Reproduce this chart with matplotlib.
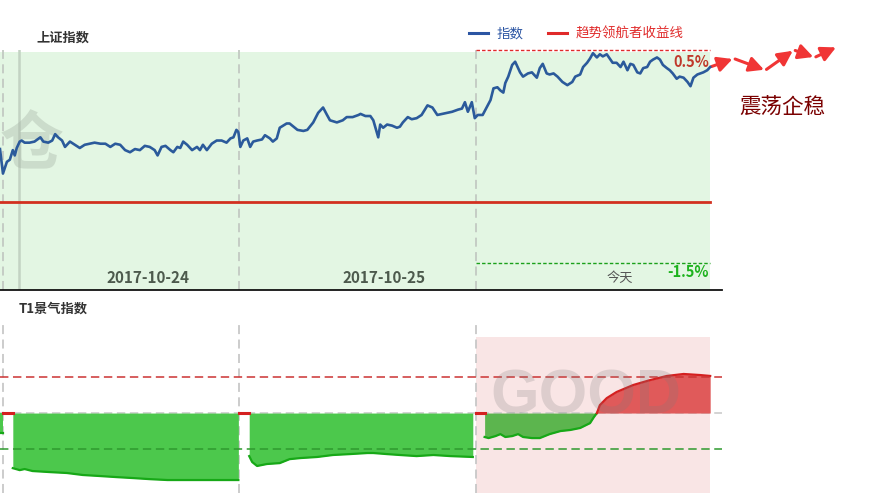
import numpy as np
import matplotlib.pyplot as plt
import matplotlib.transforms as mtrans
from matplotlib.lines import Line2D

plt.rcParams['font.family'] = ['Noto Sans CJK SC', 'DejaVu Sans']

# ---- data ----
day_labels = ['2017-10-24', '2017-10-25', '今天']
day_start = [0, 240, 480]
day_end = 718

# 上证指数, minute of the 3-day window vs % change
idx_min = [-3, 0, 4, 7, 10, 12, 14, 17, 19, 22, 27, 32, 38, 41, 46, 50, 53, 56, 60, 63,
           68, 73, 78, 83, 88, 93, 99, 104, 109, 114, 119, 124, 129, 134, 139, 144, 149, 154, 157, 161,
           165, 170, 173, 177, 180, 183, 187, 192, 197, 200, 203, 207, 212, 217, 222, 227, 231, 234, 237, 239,
           241, 244, 248, 251, 254, 258, 263, 266, 271, 274, 278, 281, 288, 291, 299, 305, 309, 315, 320, 325,
           329, 332, 339, 345, 349, 355, 361, 363, 368, 373, 376, 381, 383, 386, 390, 395, 400, 403, 406, 411,
           415, 420, 425, 431, 436, 441, 446, 451, 456, 462, 466, 469, 472, 476, 479, 482, 487, 491, 495, 498,
           502, 505, 508, 510, 513, 517, 520, 525, 528, 533, 537, 542, 545, 548, 552, 555, 559, 563, 568, 573,
           578, 581, 586, 589, 593, 596, 599, 603, 606, 609, 613, 616, 619, 623, 627, 630, 634, 637, 640, 644,
           647, 650, 654, 657, 660, 664, 667, 670, 674, 677, 680, 684, 687, 691, 695, 698, 701, 705, 708, 711,
           715, 718]
idx_pct = [-0.43, -0.66, -0.55, -0.53, -0.44, -0.49, -0.42, -0.36, -0.35, -0.37, -0.37, -0.36, -0.32, -0.36, -0.37, -0.35, -0.29, -0.32, -0.35, -0.41,
           -0.36, -0.39, -0.42, -0.39, -0.38, -0.37, -0.38, -0.38, -0.41, -0.38, -0.39, -0.44, -0.46, -0.43, -0.44, -0.40, -0.41, -0.44, -0.49, -0.41,
           -0.40, -0.44, -0.46, -0.41, -0.42, -0.36, -0.39, -0.44, -0.41, -0.44, -0.39, -0.44, -0.38, -0.35, -0.35, -0.37, -0.33, -0.32, -0.25, -0.27,
           -0.41, -0.35, -0.33, -0.41, -0.36, -0.35, -0.34, -0.30, -0.33, -0.36, -0.33, -0.23, -0.19, -0.19, -0.25, -0.26, -0.25, -0.18, -0.09, -0.04,
           -0.11, -0.16, -0.18, -0.16, -0.13, -0.13, -0.11, -0.10, -0.12, -0.12, -0.16, -0.32, -0.20, -0.23, -0.20, -0.21, -0.23, -0.22, -0.18, -0.13,
           -0.15, -0.14, -0.11, -0.02, -0.04, -0.11, -0.10, -0.09, -0.08, -0.06, -0.05, 0.01, -0.08, 0.01, -0.14, -0.11, -0.11, -0.04, 0.03, 0.14,
           0.15, 0.12, 0.10, 0.19, 0.25, 0.36, 0.39, 0.29, 0.25, 0.28, 0.29, 0.24, 0.33, 0.37, 0.28, 0.27, 0.28, 0.25, 0.20, 0.17,
           0.20, 0.25, 0.27, 0.34, 0.38, 0.42, 0.47, 0.43, 0.46, 0.44, 0.46, 0.42, 0.38, 0.38, 0.34, 0.39, 0.31, 0.37, 0.36, 0.29,
           0.28, 0.33, 0.34, 0.39, 0.41, 0.43, 0.41, 0.36, 0.33, 0.31, 0.28, 0.23, 0.25, 0.24, 0.20, 0.16, 0.24, 0.27, 0.28, 0.29,
           0.31, 0.34]

trend_pct = -0.93          # 趋势领航者收益线
upper_pct = 0.5
lower_pct = -1.5

# forecast arrows (震荡企稳)
fc_min = [718, 742, 774, 803, 824, 847]
fc_pct = [0.34, 0.42, 0.31, 0.50, 0.43, 0.53]

# T1景气指数 per session
t1_min = [
    [-3, 0],
    [10, 17, 22, 30, 48, 65, 81, 99, 116, 132, 149, 167, 183, 200, 217, 239],
    [250, 253, 258, 268, 281, 291, 302, 319, 335, 352, 370, 376, 390, 403, 420, 437, 454, 477],
    [489, 493, 500, 505, 510, 517, 523, 528, 537, 545, 555, 566, 576, 586, 596, 600, 603,
     606, 613, 623, 640, 657, 674, 691, 708, 718],
]
t1_val = [
    [-11, -11],
    [-30.6, -31.7, -31.1, -32.2, -32.8, -33.3, -34.4, -35.0, -35.6, -36.1, -36.7, -37.2, -37.2, -37.2, -37.2, -37.2],
    [-23.9, -27.2, -29.4, -28.3, -27.8, -25.6, -25.0, -24.4, -23.3, -22.8, -22.2, -22.2, -22.8, -23.3, -23.9, -23.3, -23.9, -24.4],
    [-13.3, -13.9, -12.8, -11.7, -13.3, -12.8, -11.7, -13.3, -13.9, -13.9, -11.7, -10.0, -9.4, -8.3, -5.6, -2.2, 0.0,
     4.4, 8.3, 11.7, 15.6, 18.3, 20.6, 21.7, 21.1, 20.6],
]
t1_hi, t1_lo = 20, -20

# ---- figure ----
fig = plt.figure(figsize=(8.69, 4.93), dpi=100)
W, H = 869, 493
ax1 = fig.add_axes([0, (H - 290) / H, 722 / W, 240 / H])
ax2 = fig.add_axes([0, 0, 722 / W, 168 / H])

xlo, xhi = -3, 730

# top panel
ax1.set_xlim(xlo, xhi)
ax1.set_ylim(-1.7535, 0.5)
ax1.axvspan(xlo, day_end, ymax=0.992, color='#e3f6e3', lw=0, zorder=0)
for d in day_start:
    ax1.axvline(d, color='#c2c9c2', lw=1.3, dashes=(5, 3), zorder=1)
ax1.axvline(16, color='#c3d3c3', lw=1.8, zorder=1)
ax1.text(0.044, 0.60, '仓', transform=ax1.transAxes, fontsize=46, fontweight='bold',
         color='#a8b6a8', alpha=0.4, ha='center', va='center', zorder=1)

ax1.plot([xlo, day_end], [trend_pct, trend_pct], color='#d2301f', lw=2, zorder=3)
ax1.plot(idx_min, idx_pct, color='#2b5a9b', lw=1.9, zorder=4)

ax1.plot([day_start[2], day_end], [upper_pct, upper_pct], color='#e02a2a', lw=1,
         dashes=(2.5, 1.5), clip_on=False, zorder=3)
ax1.plot([day_start[2], day_end], [lower_pct, lower_pct], color='#1aa01a', lw=1,
         dashes=(2.5, 1.5), zorder=3)
ax1.annotate('0.5%', (day_end, upper_pct), xytext=(-1, -3), textcoords='offset points',
             ha='right', va='top', fontsize=10.5, fontweight='bold', color='#c0392b')
ax1.annotate('-1.5%', (day_end, lower_pct), xytext=(-1, -0.5), textcoords='offset points',
             ha='right', va='top', fontsize=10.5, fontweight='bold', color='#1db31d')

tr = mtrans.blended_transform_factory(ax1.transData, ax1.transAxes)
for d, lab in zip(day_start, day_labels):
    if lab == '今天':
        ax1.text(d + 146, 0.046, lab, transform=tr, ha='center', va='center',
                 fontsize=9.5, color='#555555')
    else:
        ax1.text(d + 147, 0.052, lab, transform=tr, ha='center', va='center',
                 fontsize=11, fontweight='bold', color='#4d5a4d')

for s in ['top', 'left', 'right']:
    ax1.spines[s].set_visible(False)
ax1.spines['bottom'].set_color('#111111')
ax1.spines['bottom'].set_linewidth(1.3)
ax1.set_xticks([])
ax1.set_yticks([])
ax1.set_facecolor('none')

# forecast arrows
for i in range(len(fc_min) - 1):
    ax1.annotate('', xy=(fc_min[i + 1], fc_pct[i + 1]), xytext=(fc_min[i], fc_pct[i]),
                 arrowprops=dict(arrowstyle='-|>,head_length=0.55,head_width=0.28',
                                 mutation_scale=16, color='#f03535', lw=2.2,
                                 shrinkA=1, shrinkB=1),
                 annotation_clip=False)

fig.text(782 / W, 1 - 108 / H, '震荡企稳', ha='center', va='center', fontsize=15.5,
         color='#7a0000')

# legend
handles = [Line2D([], [], color='#2b55a3', lw=2.2), Line2D([], [], color='#e02a2a', lw=2.2)]
fig.legend(handles, ['指数', '趋势领航者收益线'], loc='center right',
           bbox_to_anchor=(690 / W, 1 - 34 / H), ncol=2, frameon=False, fontsize=9.7,
           handlelength=1.45, handletextpad=0.6, columnspacing=1.8, borderpad=0,
           labelcolor='linecolor')

fig.text(63 / W, 1 - 38 / H, '上证指数', ha='center', va='center', fontsize=9.5,
         fontweight='bold', color='#333333')
fig.text(53 / W, 1 - 309 / H, 'T1景气指数', ha='center', va='center', fontsize=9.5,
         fontweight='bold', color='#333333')

# bottom panel
ax2.set_xlim(xlo, xhi)
ax2.set_ylim(-44.4, 48.9)
ax2.axvspan(day_start[2], day_end, ymax=0.928, color='#f9e5e5', lw=0, zorder=0)
for d in day_start:
    ax2.axvline(d, color='#c8c8c8', lw=1.3, dashes=(5, 3), zorder=1)

green_fill = ['#4cc84c', '#4cc84c', '#4cc84c', '#5cb54e']
for k, (m, v) in enumerate(zip(t1_min, t1_val)):
    m = np.array(m, float)
    v = np.array(v, float)
    ax2.fill_between(m, 0, v, where=v <= 0, interpolate=True, color=green_fill[k], lw=0, zorder=2)
    ax2.fill_between(m, 0, v, where=v >= 0, interpolate=True, color='#e05a5a', lw=0, zorder=2)
    ax2.plot(m, np.where(v <= 0, v, np.nan), color='#17a817', lw=1.6, zorder=3)
    ax2.plot(m, np.where(v >= 0, v, np.nan), color='#d42020', lw=1.6, zorder=3)
    if k > 0:
        ax2.plot([day_start[k - 1], m[0]], [0, 0], color='#d42020', lw=2.2, zorder=3)

ax2.axhline(t1_hi, color='#cc3333', lw=1.1, dashes=(5.5, 3), zorder=4)
ax2.axhline(0, color='#c8c8c8', lw=1.1, dashes=(5.5, 3), zorder=1)
ax2.axhline(t1_lo, color='#2e9a2e', lw=1.1, dashes=(5.5, 3), zorder=4)

ax2.text(592, 9, 'GOOD', family='Liberation Sans', fontsize=45, fontweight='bold',
         color='#7a7a7a', alpha=0.22, ha='center', va='center', zorder=5)

for s in ax2.spines.values():
    s.set_visible(False)
ax2.set_xticks([])
ax2.set_yticks([])
ax2.set_facecolor('none')

fig.savefig('out.png', dpi=100)
